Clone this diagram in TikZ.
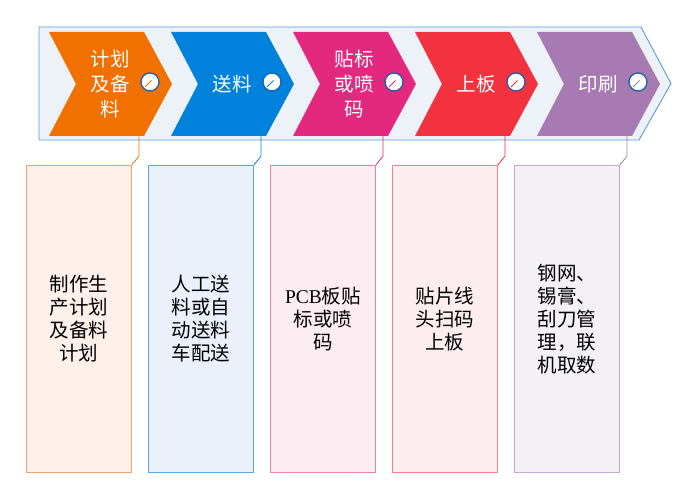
\documentclass[tikz,border=0pt]{standalone}
\usepackage{fontspec}
\newfontfamily\cjk{Noto Sans CJK SC}
\newfontfamily\latserif{Liberation Serif}
\definecolor{bandfill}{HTML}{EDF2F9}
\definecolor{bandline}{HTML}{5B9BD5}
\definecolor{cA}{HTML}{F07000}
\definecolor{cB}{HTML}{0082DC}
\definecolor{cC}{HTML}{E2297F}
\definecolor{cD}{HTML}{F2323F}
\definecolor{cE}{HTML}{A77AB1}
\definecolor{fA}{HTML}{FDEFEA}
\definecolor{fB}{HTML}{EAF1FA}
\definecolor{fC}{HTML}{FBEDF2}
\definecolor{fD}{HTML}{FCEDEE}
\definecolor{fE}{HTML}{F3F0F6}
\definecolor{bA}{HTML}{F4A070}
\definecolor{bB}{HTML}{5AA8E8}
\definecolor{bC}{HTML}{F080A8}
\definecolor{bD}{HTML}{F88088}
\definecolor{bE}{HTML}{C8A8D0}
\definecolor{ringc}{HTML}{1F5FA8}
\tikzset{
  chevtext/.style={text=white, align=center, font=\cjk\fontsize{19.5}{25}\selectfont, inner sep=0pt},
  boxtext/.style={text=black, align=center, font=\cjk\fontsize{19.5}{23}\selectfont, inner sep=0pt},
  ring/.style={circle, draw=ringc, line width=1.3pt, fill=white, minimum size=18pt, inner sep=0pt},
  detailbox/.style={rectangle, line width=0.9pt, minimum width=105pt, minimum height=307pt, inner sep=0pt, anchor=north west},
}
\begin{document}
\begin{tikzpicture}[x=1pt,y=-1pt]
\useasboundingbox (0,0) rectangle (697,489);
% background band
\draw[fill=bandfill, draw=bandline, line width=0.9pt] (39,27) -- (641,27) -- (671,83.5) -- (639,140) -- (39,140) -- cycle;
% chevrons, rings, boxes, connectors
\foreach \i/\c/\f/\b/\ct/\bt in {
  0/cA/fA/bA/{计划\\及备\\料}/{制作生\\产计划\\及备料\\计划},
  1/cB/fB/bB/{送料}/{人工送\\料或自\\动送料\\车配送},
  2/cC/fC/bC/{贴标\\或喷\\码}/{{\latserif PCB}板贴\\标或喷\\码},
  3/cD/fD/bD/{上板}/{贴片线\\头扫码\\上板},
  4/cE/fE/bE/{印刷}/{钢网、\\锡膏、\\刮刀管\\理，联\\机取数}} {
  \pgfmathsetmacro{\L}{49+122*\i}
  \pgfmathsetmacro{\B}{26+122*\i}
  \fill[\c] (\L,32) -- ++(95,0) -- ++(28,52) -- ++(-28,52) -- ++(-95,0) -- ++(27,-52) -- cycle;
  \node[chevtext] (t\i) at (\L+61,84) {\ct};
  \node[ring] (r\i) at (\L+101,82) {};
  \draw[\c, line width=0.8pt] ([shift={(-5,5)}]r\i.center) -- ([shift={(1.5,-1.5)}]r\i.center);
  \node[detailbox, draw=\b, fill=\f] (d\i) at (\B,165) {};
  \node[boxtext] (e\i) at (d\i.center) {\bt};
  \coordinate (k\i) at (\L+90,136);
  \coordinate (m\i) at (\L+90,156);
  \draw[\c, line width=0.8pt] (k\i) -- (m\i) -- (d\i.north east);
}
\end{tikzpicture}
\end{document}
